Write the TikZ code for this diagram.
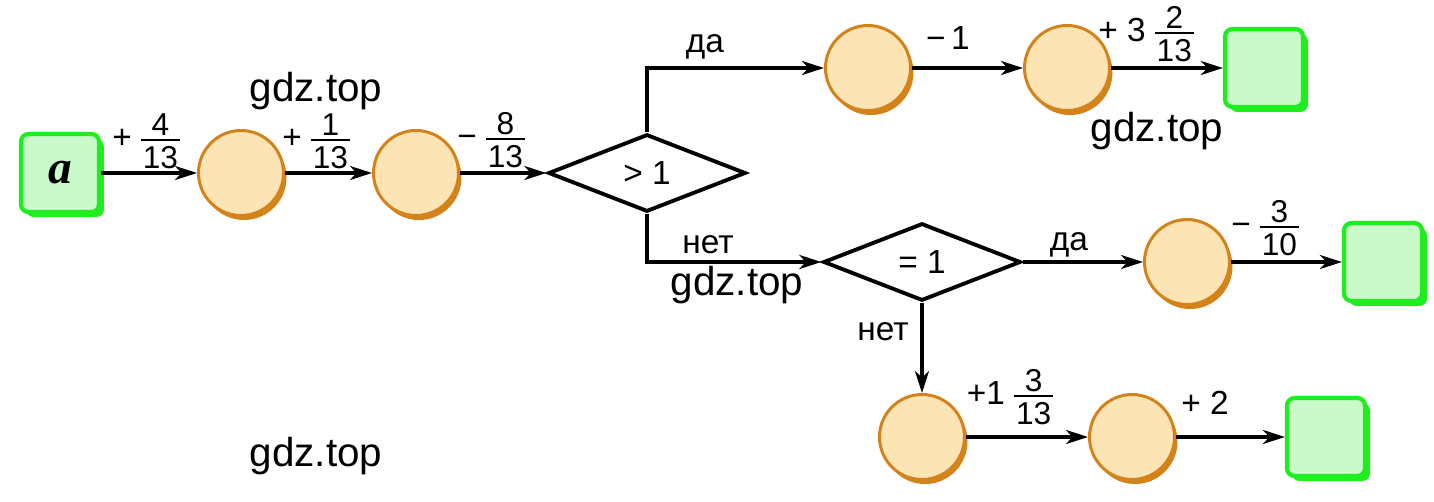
\documentclass[tikz,border=0pt]{standalone}
\usepackage{fontspec}
\setmainfont{Liberation Sans}
\newfontfamily\serifa{Liberation Serif}
\usetikzlibrary{positioning,shapes.geometric,shadows,arrows.meta}

\definecolor{ringc}{HTML}{D4821A}
\definecolor{discc}{HTML}{FDE4B4}
\definecolor{edgeg}{HTML}{1EEE1E}
\definecolor{boxg}{HTML}{CAFACA}

\newcommand{\fr}[2]{{\fontsize{18}{18}\selectfont$\vcenter{\halign{\hfil\kern1pt##\kern1pt\hfil\cr #1\cr\noalign{\kern2pt\hrule height 1pt\kern3pt}#2\cr}}$}}

\begin{document}
\begin{tikzpicture}[x=0.02cm,y=-0.02cm,
	disc/.style={circle,draw=ringc,line width=1.7pt,fill=discc,minimum size=1.7cm,inner sep=0pt,
		drop shadow={shadow xshift=0.06cm,shadow yshift=-0.09cm,fill=ringc,opacity=1}},
	sbox/.style={rectangle,rounded corners=0.15cm,draw=edgeg,line width=2.4pt,fill=boxg,minimum size=1.56cm,inner sep=0pt,
		drop shadow={shadow xshift=0.1cm,shadow yshift=-0.1cm,fill=edgeg,opacity=1}},
	cond/.style={diamond,draw,line width=2.2pt,minimum width=3.95cm,minimum height=1.55cm,inner sep=0pt,font=\fontsize{19}{22}\selectfont},
	flow/.style={line width=1.9pt,-{Stealth[length=0.44cm,width=0.28cm,inset=0.13cm]}},
	lbl/.style={inner sep=0pt,font=\fontsize{19}{22}\selectfont},
	wm/.style={inner sep=0pt,font=\fontsize{23}{26}\selectfont}]

%\draw[color=black!30,step=50](0,0)grid(1434,501);
\useasboundingbox (0,0) rectangle (1434,501);

\node[sbox] (s) at (60,173) {\serifa\fontsize{27}{27}\selectfont\bfseries\itshape a};

\foreach \n/\x/\y in {c1/241/173,c2/416/173,c3/868/68,c4/1067/68,c5/1187/262,c6/922/437,c7/1132/437}
	\node[disc] (\n) at (\x,\y) {};

\foreach \n/\x/\y in {e1/1264/68,e2/1383/262,e3/1326/437}
	\node[sbox] (\n) at (\x,\y) {};

\node[cond] (d1) at (647,173) {> 1};
\node[cond] (d2) at (922,262) {= 1};

\foreach \a/\b in {s/c1,c1/c2,c2/d1,c3/c4,c4/e1,d2/c5,c5/e2,c6/c7,c7/e3}
	\draw[flow](\a)--(\b);
\draw[flow] (d1.north) |- (c3);
\draw[flow] (d1.south) |- (d2);
\draw[flow] (d2.south) -- (c6);

\node[lbl] (l1) at (146,141) {+\;\fr{4}{13}};
\node[lbl] (l2) at (316,141) {+\;\fr{1}{13}};
\node[lbl] (l3) at (491,140) {−\;\fr{8}{13}};
\node[lbl] (l4) at (948,38) {−\,1};
\node[lbl] (l5) at (1146,34) {+ 3\;\fr{2}{13}};
\node[lbl] (l6) at (1265,228) {−\;\fr{3}{10}};
\node[lbl] (l7) at (1010,397) {+1\;\fr{3}{13}};
\node[lbl] (l8) at (1205,403) {+ 2};

\node[lbl] (y1) at (705,47) {да};
\node[lbl] (n1) at (708,245) {нет};
\node[lbl] (y2) at (1069,245) {да};
\node[lbl] (n2) at (883,332) {нет};

\foreach \x/\y [count=\c] in {316/91,1157/131,737/285,316/456}
	\node[wm] (w\c) at (\x,\y) {gdz.top};

\end{tikzpicture}
\end{document}
